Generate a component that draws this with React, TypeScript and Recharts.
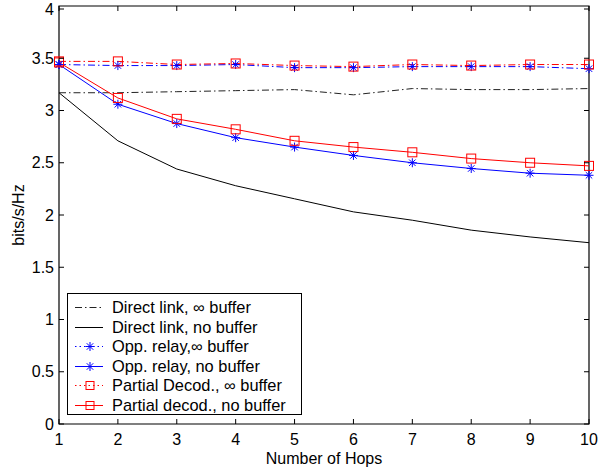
import React from "react";
import { LineChart, Line, XAxis, YAxis, Legend, ReferenceArea } from "recharts";

const hops = [1, 2, 3, 4, 5, 6, 7, 8, 9, 10];
const directInf = [3.17, 3.17, 3.18, 3.19, 3.2, 3.15, 3.21, 3.2, 3.2, 3.21];
const directNo = [3.17, 2.71, 2.44, 2.28, 2.155, 2.03, 1.95, 1.855, 1.79, 1.735];
const oppInf = [3.44, 3.43, 3.43, 3.44, 3.41, 3.41, 3.42, 3.42, 3.42, 3.4];
const oppNo = [3.44, 3.06, 2.875, 2.74, 2.65, 2.57, 2.5, 2.445, 2.4, 2.38];
const partInf = [3.47, 3.47, 3.44, 3.45, 3.43, 3.42, 3.44, 3.43, 3.44, 3.44];
const partNo = [3.46, 3.12, 2.92, 2.82, 2.71, 2.65, 2.6, 2.54, 2.5, 2.47];

const xTicks = [1, 2, 3, 4, 5, 6, 7, 8, 9, 10];
const yTicks = [0, 0.5, 1, 1.5, 2, 2.5, 3, 3.5, 4];

const data = hops.map((h, i) => ({
  hop: h,
  directInf: directInf[i],
  directNo: directNo[i],
  oppInf: oppInf[i],
  oppNo: oppNo[i],
  partInf: partInf[i],
  partNo: partNo[i],
}));

const FONT = "'Liberation Sans', Arial, Helvetica, sans-serif";
const PLOT = { left: 59, right: 589, top: 6, bottom: 424 };
const DASHDOT = "7 3 1.5 3";

const Asterisk = ({ cx, cy, color = "#0000ff", r = 4.5 }: any) => {
  const d = r * 0.72;
  return (
    <g stroke={color} strokeWidth={1}>
      <line x1={cx - r} y1={cy} x2={cx + r} y2={cy} />
      <line x1={cx} y1={cy - r} x2={cx} y2={cy + r} />
      <line x1={cx - d} y1={cy - d} x2={cx + d} y2={cy + d} />
      <line x1={cx - d} y1={cy + d} x2={cx + d} y2={cy - d} />
    </g>
  );
};

const Square = ({ cx, cy, color = "#ff0000", r = 4.5 }: any) => (
  <rect x={cx - r} y={cy - r} width={2 * r} height={2 * r} fill="none" stroke={color} strokeWidth={1} />
);

const starDot = (props: any) => <Asterisk key={props.key ?? `s-${props.index}`} cx={props.cx} cy={props.cy} />;
const squareDot = (props: any) => <Square key={props.key ?? `q-${props.index}`} cx={props.cx} cy={props.cy} />;

const YTick = ({ x, y, payload }: any) => (
  <g>
    <line x1={PLOT.left} x2={PLOT.left + 5} y1={y} y2={y} stroke="#000" />
    <line x1={PLOT.right - 5} x2={PLOT.right} y1={y} y2={y} stroke="#000" />
    <text x={x} y={y + 5.5} textAnchor="end" fontSize={16} fontFamily={FONT} fill="#000">
      {payload.value}
    </text>
  </g>
);

const XTick = ({ x, y, payload }: any) => (
  <g>
    <line x1={x} x2={x} y1={PLOT.bottom} y2={PLOT.bottom - 5} stroke="#000" />
    <line x1={x} x2={x} y1={PLOT.top} y2={PLOT.top + 5} stroke="#000" />
    <text x={x} y={y + 21} textAnchor="middle" fontSize={16} fontFamily={FONT} fill="#000">
      {payload.value}
    </text>
  </g>
);

const legendItems = [
  { label: "Direct link, \u221e buffer", color: "#222", dash: DASHDOT, marker: null },
  { label: "Direct link, no buffer", color: "#000", dash: undefined, marker: null },
  { label: "Opp. relay,\u221e buffer", color: "#0000ff", dash: "1.5 3", marker: "star" },
  { label: "Opp. relay, no buffer", color: "#0000ff", dash: undefined, marker: "star" },
  { label: "Partial Decod., \u221e buffer", color: "#ff0000", dash: "1.5 3", marker: "square" },
  { label: "Partial decod., no buffer", color: "#ff0000", dash: undefined, marker: "square" },
];

const LegendBox = () => (
  <div
    style={{
      width: 233,
      height: 116,
      border: "1px solid #000",
      background: "#fff",
      paddingTop: 4,
      boxSizing: "content-box",
      fontFamily: FONT,
      fontSize: 16.4,
    }}
  >
    {legendItems.map((it) => (
      <div key={it.label} style={{ display: "flex", alignItems: "center", height: 19.5 }}>
        <svg width={44} height={19} style={{ flex: "none" }}>
          <line x1={7} x2={35} y1={9.5} y2={9.5} stroke={it.color} strokeDasharray={it.dash} />
          {it.marker === "star" && <Asterisk cx={22} cy={9.5} />}
          {it.marker === "square" && <Square cx={22} cy={9.5} r={4} />}
        </svg>
        <span style={{ whiteSpace: "nowrap", lineHeight: "19px" }}>{it.label}</span>
      </div>
    ))}
  </div>
);

export default function App() {
  return (
    <div style={{ position: "absolute", left: 0, top: 0, background: "#fff" }}>
      <LineChart width={598} height={470} data={data} margin={{ top: 6, right: 9, left: 0, bottom: 0 }}>
        <XAxis
          dataKey="hop"
          type="number"
          domain={[1, 10]}
          ticks={xTicks}
          height={46}
          tickSize={0}
          tickMargin={0}
          axisLine={false}
          tickLine={false}
          tick={<XTick />}
          label={{ value: "Number of Hops", position: "insideBottom", offset: 6, fontSize: 16, fontFamily: FONT, fill: "#000" }}
        />
        <YAxis
          type="number"
          domain={[0, 4]}
          ticks={yTicks}
          width={59}
          tickSize={0}
          tickMargin={5}
          axisLine={false}
          tickLine={false}
          tick={<YTick />}
          label={{ value: "bits/s/Hz", angle: -90, position: "insideLeft", offset: 18, fontSize: 16, fontFamily: FONT, fill: "#000", style: { textAnchor: "middle" } }}
        />
        <ReferenceArea x1={1} x2={10} y1={0} y2={4} fill="none" stroke="#000" strokeWidth={1.2} ifOverflow="visible" />
        <Line dataKey="directInf" stroke="#222" strokeWidth={1} strokeDasharray={DASHDOT} dot={false} isAnimationActive={false} />
        <Line dataKey="directNo" stroke="#000" strokeWidth={1} dot={false} isAnimationActive={false} />
        <Line dataKey="oppInf" stroke="#0000ff" strokeWidth={1} strokeDasharray={DASHDOT} dot={starDot} isAnimationActive={false} />
        <Line dataKey="oppNo" stroke="#0000ff" strokeWidth={1} dot={starDot} isAnimationActive={false} />
        <Line dataKey="partInf" stroke="#ff0000" strokeWidth={1} strokeDasharray={DASHDOT} dot={squareDot} isAnimationActive={false} />
        <Line dataKey="partNo" stroke="#ff0000" strokeWidth={1} dot={squareDot} isAnimationActive={false} />
        <Legend
          layout="vertical"
          align="center"
          verticalAlign="middle"
          content={() => <LegendBox />}
          wrapperStyle={{ position: "absolute", left: 67, top: 293, width: 235, height: 122 }}
        />
      </LineChart>
    </div>
  );
}
